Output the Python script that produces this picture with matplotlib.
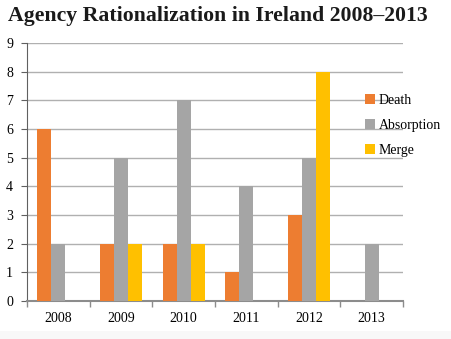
import matplotlib
matplotlib.use("Agg")
import matplotlib.pyplot as plt
from matplotlib.patches import Rectangle
import numpy as np

years = ["2008", "2009", "2010", "2011", "2012", "2013"]
death = [6, 2, 2, 1, 3, 0]
absorption = [2, 5, 7, 4, 5, 2]
merge = [0, 2, 2, 0, 8, 0]

series = [("Death", death, "#ED7D31"),
          ("Absorption", absorption, "#A5A5A5"),
          ("Merge", merge, "#FFC000")]

serif = ["Liberation Serif", "DejaVu Serif"]
plt.rcParams["font.family"] = serif

fig = plt.figure(figsize=(4.51, 3.39), dpi=100)
# faint strip along the bottom edge
fig.patches.append(Rectangle((0, 0), 1, 8 / 339, transform=fig.transFigure,
                             facecolor="#f8f8f8", edgecolor="none", zorder=0))

ax = fig.add_axes([27 / 451, 1 - 301 / 339, (403 - 27) / 451, (301 - 43) / 339])

x = np.arange(len(years))
bw = 0.225
for i, (name, vals, col) in enumerate(series):
    ax.bar(x + (i - 1) * bw, vals, width=bw, color=col, label=name, zorder=3)

ax.set_xlim(-0.5, len(years) - 0.5)
ax.set_ylim(0, 9)
ax.set_yticks(range(0, 10))
ax.set_xticks(x)
ax.set_xticklabels(years)
ax.set_xticks(np.arange(-0.5, len(years)), minor=True)
ax.tick_params(axis="x", which="major", length=0, labelsize=10, pad=8)
ax.tick_params(axis="x", which="minor", length=4, color="#8c8c8c", width=1)
ax.tick_params(axis="y", length=4, color="#606060", labelsize=10, pad=6)

ax.grid(axis="y", color="#b0b0b0", linewidth=1, zorder=0)
for s in ["top", "right"]:
    ax.spines[s].set_visible(False)
ax.spines["left"].set_color("#606060")
ax.spines["left"].set_linewidth(0.8)
ax.spines["bottom"].set_color("#8c8c8c")
ax.spines["bottom"].set_linewidth(1.5)

fig.text(0.018, 0.952, "Agency Rationalization in Ireland 2008\u20132013",
         fontsize=15.7, fontweight="bold", ha="left", va="center", color="#1a1a1a")

leg = ax.legend(loc="upper left", bbox_to_anchor=(0.866, 0.85), frameon=False,
                fontsize=10, handlelength=0.7, handleheight=0.7,
                handletextpad=0.3, labelspacing=0.85)

fig.savefig("out.png", dpi=100)
